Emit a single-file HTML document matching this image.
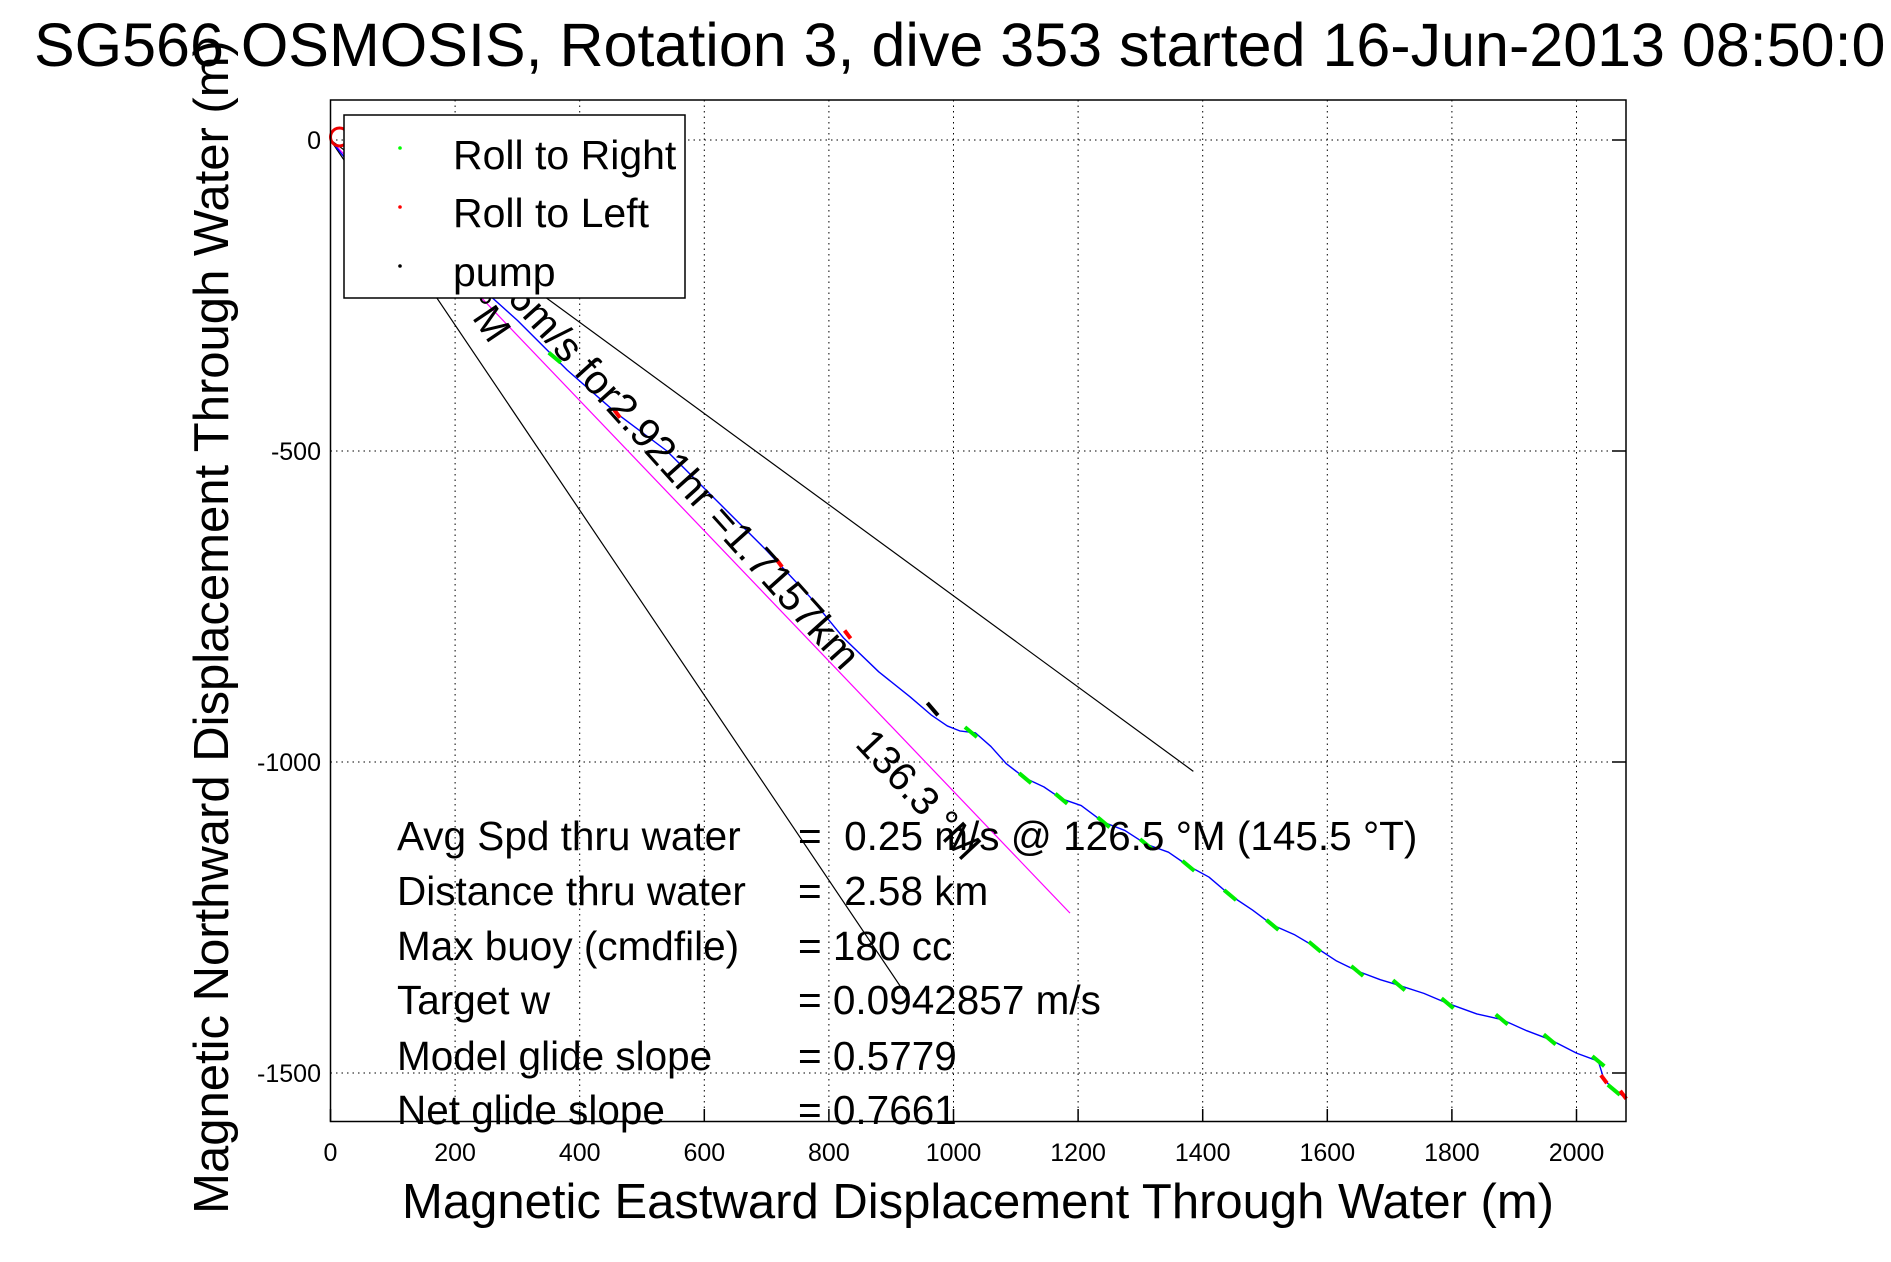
<!DOCTYPE html>
<html><head><meta charset="utf-8"><style>
html,body{margin:0;padding:0;background:#fff;}
svg{display:block;font-family:"Liberation Sans",sans-serif;}
</style></head><body>
<svg id="chart" width="1891" height="1262" viewBox="0 0 1891 1262">
<text x="34" y="66" font-size="61">SG566 OSMOSIS, Rotation 3, dive 353 started 16-Jun-2013 08:50:0</text>
<g id="grid"></g>
<g id="plot"></g>
<rect x="330.5" y="100" width="1295.5" height="1021.5" fill="none" stroke="#000" stroke-width="1.5"/>
<g id="ticks"></g>
<text transform="translate(228,627) rotate(-90)" text-anchor="middle" font-size="49">Magnetic Northward Displacement Through Water (m)</text>
<text x="978" y="1218" text-anchor="middle" font-size="49">Magnetic Eastward Displacement Through Water (m)</text>
<g font-size="40.5" style="white-space:pre">
<text x="397" y="850">Avg Spd thru water</text><text x="798" y="850" xml:space="preserve">=  0.25 m/s @ 126.5 °M (145.5 °T)</text>
<text x="397" y="905">Distance thru water</text><text x="798" y="905" xml:space="preserve">=  2.58 km</text>
<text x="397" y="960">Max buoy (cmdfile)</text><text x="798" y="960">= 180 cc</text>
<text x="397" y="1014">Target w</text><text x="798" y="1014">= 0.0942857 m/s</text>
<text x="397" y="1070">Model glide slope</text><text x="798" y="1070">= 0.5779</text>
<text x="397" y="1124">Net glide slope</text><text x="798" y="1124">= 0.7661</text>
</g>
<g>
<rect x="344" y="115" width="341" height="183" fill="#fff" stroke="#000" stroke-width="1.5"/>
<circle cx="400" cy="148" r="1.8" fill="#0f0"/>
<text x="453" y="169" font-size="41">Roll to Right</text>
<circle cx="400" cy="207" r="1.8" fill="#f00"/>
<text x="453" y="227" font-size="41">Roll to Left</text>
<circle cx="400" cy="266" r="1.8" fill="#000"/>
<text x="453" y="286" font-size="41">pump</text>
</g>
</svg>
<script>
const xTicks=[0,200,400,600,800,1000,1200,1400,1600,1800,2000];
const yTicks=[0,-500,-1000,-1500];
const trackX=[0,40,100,200,300,380,460,540,620,700,770,823,880,930,965,990,1010,1035,1060,1085,1115,1145,1173,1205,1241,1275,1309,1345,1377,1410,1444,1480,1512,1548,1580,1615,1648,1685,1715,1755,1793,1840,1880,1920,1957,2000,2035,2044,2060,2079];
const trackY=[0,-50,-110,-200,-290,-370,-440,-500,-580,-660,-735,-800,-855,-895,-925,-942,-950,-953,-975,-1003,-1026,-1040,-1059,-1070,-1097,-1110,-1132,-1145,-1167,-1185,-1214,-1238,-1262,-1278,-1297,-1320,-1336,-1350,-1359,-1372,-1388,-1405,-1414,-1432,-1446,-1468,-1481,-1510,-1527,-1540];
const greenX=[360,1028,1115,1173,1241,1309,1377,1444,1512,1580,1648,1715,1793,1880,1957,2035,2060];
const greenY=[-350,-952,-1026,-1059,-1097,-1132,-1167,-1214,-1262,-1297,-1336,-1359,-1388,-1414,-1446,-1481,-1527];
const redX=[460,720,830,2044,2075];
const redY=[-440,-680,-795,-1510,-1535];
const pumpX=[958,975];
const pumpY=[-905,-925];
const refEndX=[1385,925,1187];
const refEndY=[-1015,-1376,-1243];
const refColors=['#000','#000','#f0f'];
const X0=330.5,PX=0.623,Y0=140,PY=0.622;
function sx(v){return X0+v*PX;}
function sy(v){return Y0-v*PY;}
const NS='http://www.w3.org/2000/svg';
function mk(tag,attrs,parent){const e=document.createElementNS(NS,tag);for(const k in attrs)e.setAttribute(k,attrs[k]);parent.appendChild(e);return e;}
const grid=document.getElementById('grid'),plot=document.getElementById('plot'),ticks=document.getElementById('ticks');
xTicks.forEach(v=>{
 const g=mk('line',{x1:sx(v),x2:sx(v),y1:100,y2:1121.5,stroke:'#000','stroke-width':1,'stroke-dasharray':'1.5,4'},grid);
 
 
 const t=mk('line',{x1:sx(v),x2:sx(v),y1:1121.5,y2:1109,stroke:'#000','stroke-width':1.5},ticks);
 
 
 const l=mk('text',{x:sx(v),y:1161,'text-anchor':'middle','font-size':25},ticks);
 l.textContent=v;
 
 
});
yTicks.forEach(v=>{
 const g=mk('line',{x1:330.5,x2:1626,y1:sy(v),y2:sy(v),stroke:'#000','stroke-width':1,'stroke-dasharray':'1.5,4'},grid);
 
 
 const t=mk('line',{x1:1626,x2:1612,y1:sy(v),y2:sy(v),stroke:'#000','stroke-width':1.5},ticks);
 
 
 const l=mk('text',{x:321,y:sy(v)+9,'text-anchor':'end','font-size':25},ticks);
 l.textContent=v;
 
 
});
refEndX.forEach((v,i)=>{
 const l=mk('line',{x1:sx(0),y1:sy(0),x2:sx(v),y2:sy(refEndY[i]),stroke:refColors[i],'stroke-width':1.2},plot);
 
 
});
const trk=mk('polyline',{points:trackX.map((v,i)=>sx(v)+','+sy(trackY[i])).join(' '),fill:'none',stroke:'#00f','stroke-width':1.4,'stroke-linejoin':'round'},plot);


const loop=mk('circle',{cx:sx(0)+9,cy:sy(0)-3,r:9,fill:'none',stroke:'#e00','stroke-width':3},plot);


greenX.forEach((v,i)=>{
 const m=mk('line',{x1:sx(v)-6,y1:sy(greenY[i])-5,x2:sx(v)+6,y2:sy(greenY[i])+5,stroke:'#0e0','stroke-width':4},plot);
 
 
});
redX.forEach((v,i)=>{
 const m=mk('line',{x1:sx(v)-3,y1:sy(redY[i])-4,x2:sx(v)+3,y2:sy(redY[i])+4,stroke:'#f00','stroke-width':4},plot);
 
 
});
const pm=mk('line',{x1:sx(pumpX[0]),y1:sy(pumpY[0]),x2:sx(pumpX[1]),y2:sy(pumpY[1]),stroke:'#000','stroke-width':4},plot);


const a1=mk('text',{x:842,y:672,'text-anchor':'end','font-size':41,transform:'rotate(48 842 672)'},plot);
a1.textContent='0.246m/s for2.921hr =1.7157km';


const a2=mk('text',{x:854,y:745,'font-size':40,transform:'rotate(47 854 745)'},plot);
a2.textContent='136.3 °M';


const a3=mk('text',{x:490,y:345,'text-anchor':'end','font-size':40,transform:'rotate(56 490 345)'},plot);
a3.textContent='153.3 °M';


</script>
</body></html>
